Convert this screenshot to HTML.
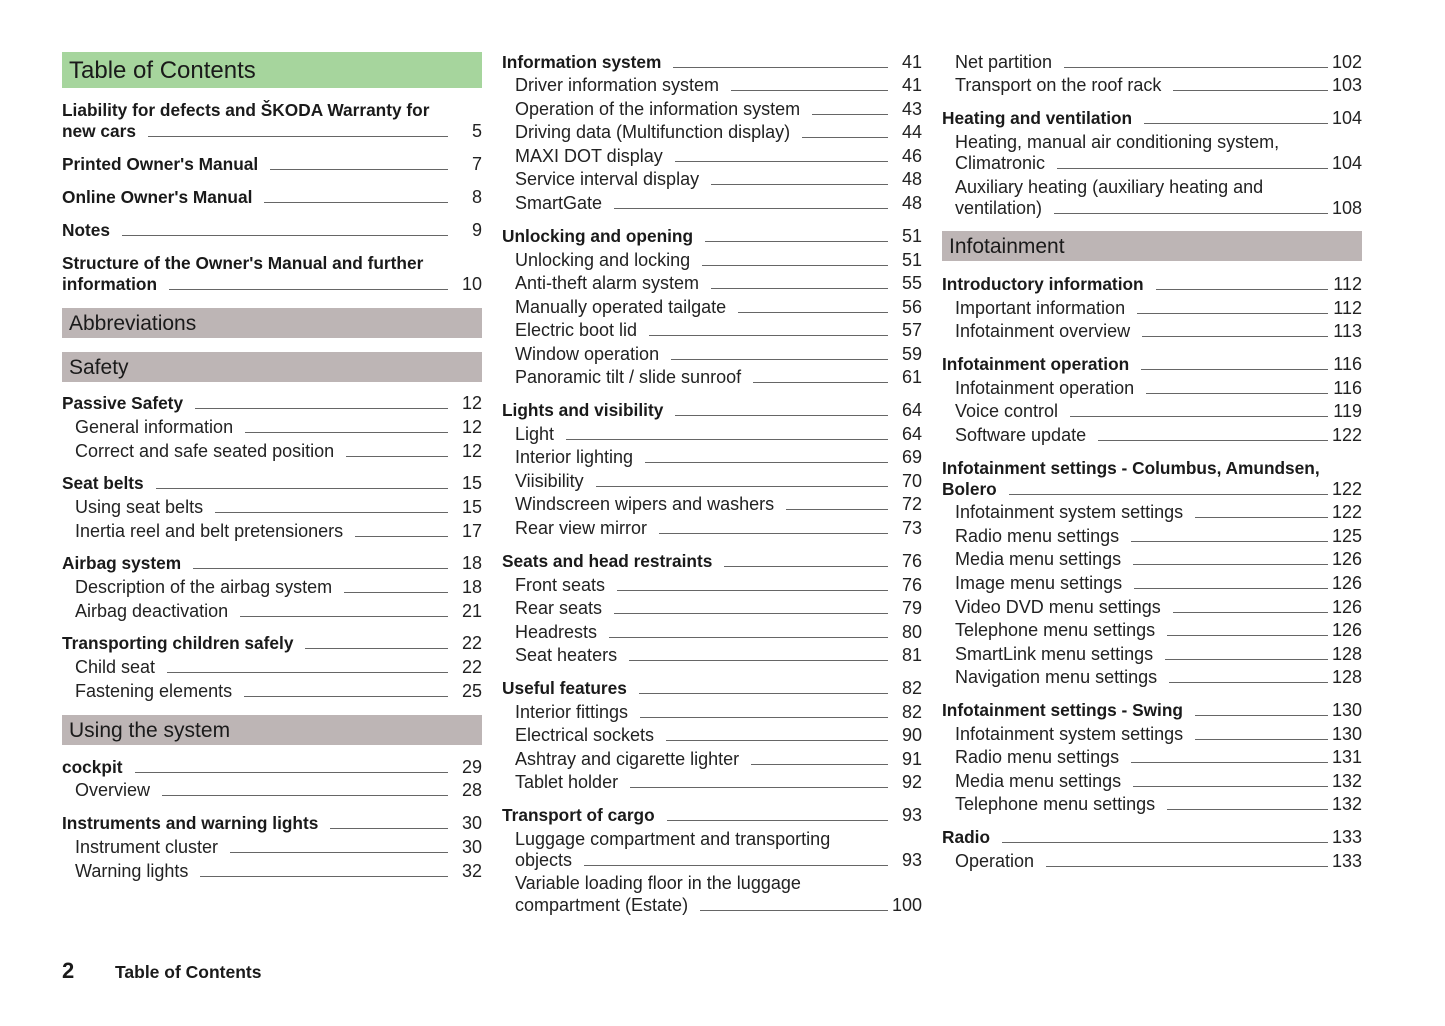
<!DOCTYPE html>
<html><head><meta charset="utf-8">
<style>
body{margin:0;width:1445px;height:1026px;background:#fff;position:relative;overflow:hidden;font-family:"Liberation Sans",sans-serif;color:#222}
.e{position:absolute;height:22px;line-height:22px;display:flex;font-size:18px;white-space:nowrap;margin-top:1px}
.c1{left:62px;width:420px}.c2{left:502px;width:420px}.c3{left:942px;width:420px}
.s{padding-left:13px;box-sizing:border-box}
.b{font-weight:bold;color:#1a1a1a;font-size:17.3px}
.r{flex:1;align-self:flex-end;margin:0 0 5px 12px;border-bottom:1px solid #666;height:0}
.n{width:34px;text-align:right;font-weight:normal;color:#222;font-size:18px}
.h{position:absolute;height:30px;line-height:31px;font-size:21px;padding-left:7px;box-sizing:border-box;background:#bdb5b5;color:#1a1a1a}
</style></head><body>
<div class="h" style="left:62px;top:52px;width:420px;height:36px;line-height:38px;font-size:24px;background:#a6d59d">Table of Contents</div>
<div class="h" style="left:62px;top:308px;width:420px">Abbreviations</div>
<div class="h" style="left:62px;top:352px;width:420px">Safety</div>
<div class="h" style="left:62px;top:715px;width:420px">Using the system</div>
<div class="h" style="left:942px;top:231px;width:420px">Infotainment</div>

<div class="e c1 b" style="top:98px">Liability for defects and ŠKODA Warranty for</div>
<div class="e c1 b" style="top:119px">new cars<span class="r"></span><span class="n">5</span></div>
<div class="e c1 b" style="top:152px">Printed Owner's Manual<span class="r"></span><span class="n">7</span></div>
<div class="e c1 b" style="top:185px">Online Owner's Manual<span class="r"></span><span class="n">8</span></div>
<div class="e c1 b" style="top:218px">Notes<span class="r"></span><span class="n">9</span></div>
<div class="e c1 b" style="top:251px">Structure of the Owner's Manual and further</div>
<div class="e c1 b" style="top:272px">information<span class="r"></span><span class="n">10</span></div>
<div class="e c1 b" style="top:391px">Passive Safety<span class="r"></span><span class="n">12</span></div>
<div class="e c1 s" style="top:415px">General information<span class="r"></span><span class="n">12</span></div>
<div class="e c1 s" style="top:439px">Correct and safe seated position<span class="r"></span><span class="n">12</span></div>
<div class="e c1 b" style="top:471px">Seat belts<span class="r"></span><span class="n">15</span></div>
<div class="e c1 s" style="top:495px">Using seat belts<span class="r"></span><span class="n">15</span></div>
<div class="e c1 s" style="top:519px">Inertia reel and belt pretensioners<span class="r"></span><span class="n">17</span></div>
<div class="e c1 b" style="top:551px">Airbag system<span class="r"></span><span class="n">18</span></div>
<div class="e c1 s" style="top:575px">Description of the airbag system<span class="r"></span><span class="n">18</span></div>
<div class="e c1 s" style="top:599px">Airbag deactivation<span class="r"></span><span class="n">21</span></div>
<div class="e c1 b" style="top:631px">Transporting children safely<span class="r"></span><span class="n">22</span></div>
<div class="e c1 s" style="top:655px">Child seat<span class="r"></span><span class="n">22</span></div>
<div class="e c1 s" style="top:679px">Fastening elements<span class="r"></span><span class="n">25</span></div>
<div class="e c1 b" style="top:755px">cockpit<span class="r"></span><span class="n">29</span></div>
<div class="e c1 s" style="top:778px">Overview<span class="r"></span><span class="n">28</span></div>
<div class="e c1 b" style="top:811px">Instruments and warning lights<span class="r"></span><span class="n">30</span></div>
<div class="e c1 s" style="top:835px">Instrument cluster<span class="r"></span><span class="n">30</span></div>
<div class="e c1 s" style="top:859px">Warning lights<span class="r"></span><span class="n">32</span></div>

<div class="e c2 b" style="top:50px">Information system<span class="r"></span><span class="n">41</span></div>
<div class="e c2 s" style="top:73px">Driver information system<span class="r"></span><span class="n">41</span></div>
<div class="e c2 s" style="top:97px">Operation of the information system<span class="r"></span><span class="n">43</span></div>
<div class="e c2 s" style="top:120px">Driving data (Multifunction display)<span class="r"></span><span class="n">44</span></div>
<div class="e c2 s" style="top:144px">MAXI DOT display<span class="r"></span><span class="n">46</span></div>
<div class="e c2 s" style="top:167px">Service interval display<span class="r"></span><span class="n">48</span></div>
<div class="e c2 s" style="top:191px">SmartGate<span class="r"></span><span class="n">48</span></div>
<div class="e c2 b" style="top:224px">Unlocking and opening<span class="r"></span><span class="n">51</span></div>
<div class="e c2 s" style="top:248px">Unlocking and locking<span class="r"></span><span class="n">51</span></div>
<div class="e c2 s" style="top:271px">Anti-theft alarm system<span class="r"></span><span class="n">55</span></div>
<div class="e c2 s" style="top:295px">Manually operated tailgate<span class="r"></span><span class="n">56</span></div>
<div class="e c2 s" style="top:318px">Electric boot lid<span class="r"></span><span class="n">57</span></div>
<div class="e c2 s" style="top:342px">Window operation<span class="r"></span><span class="n">59</span></div>
<div class="e c2 s" style="top:365px">Panoramic tilt / slide sunroof<span class="r"></span><span class="n">61</span></div>
<div class="e c2 b" style="top:398px">Lights and visibility<span class="r"></span><span class="n">64</span></div>
<div class="e c2 s" style="top:422px">Light<span class="r"></span><span class="n">64</span></div>
<div class="e c2 s" style="top:445px">Interior lighting<span class="r"></span><span class="n">69</span></div>
<div class="e c2 s" style="top:469px">Viisibility<span class="r"></span><span class="n">70</span></div>
<div class="e c2 s" style="top:492px">Windscreen wipers and washers<span class="r"></span><span class="n">72</span></div>
<div class="e c2 s" style="top:516px">Rear view mirror<span class="r"></span><span class="n">73</span></div>
<div class="e c2 b" style="top:549px">Seats and head restraints<span class="r"></span><span class="n">76</span></div>
<div class="e c2 s" style="top:573px">Front seats<span class="r"></span><span class="n">76</span></div>
<div class="e c2 s" style="top:596px">Rear seats<span class="r"></span><span class="n">79</span></div>
<div class="e c2 s" style="top:620px">Headrests<span class="r"></span><span class="n">80</span></div>
<div class="e c2 s" style="top:643px">Seat heaters<span class="r"></span><span class="n">81</span></div>
<div class="e c2 b" style="top:676px">Useful features<span class="r"></span><span class="n">82</span></div>
<div class="e c2 s" style="top:700px">Interior fittings<span class="r"></span><span class="n">82</span></div>
<div class="e c2 s" style="top:723px">Electrical sockets<span class="r"></span><span class="n">90</span></div>
<div class="e c2 s" style="top:747px">Ashtray and cigarette lighter<span class="r"></span><span class="n">91</span></div>
<div class="e c2 s" style="top:770px">Tablet holder<span class="r"></span><span class="n">92</span></div>
<div class="e c2 b" style="top:803px">Transport of cargo<span class="r"></span><span class="n">93</span></div>
<div class="e c2 s" style="top:827px">Luggage compartment and transporting</div>
<div class="e c2 s" style="top:848px">objects<span class="r"></span><span class="n">93</span></div>
<div class="e c2 s" style="top:871px">Variable loading floor in the luggage</div>
<div class="e c2 s" style="top:893px">compartment (Estate)<span class="r"></span><span class="n">100</span></div>

<div class="e c3 s" style="top:50px">Net partition<span class="r"></span><span class="n">102</span></div>
<div class="e c3 s" style="top:73px">Transport on the roof rack<span class="r"></span><span class="n">103</span></div>
<div class="e c3 b" style="top:106px">Heating and ventilation<span class="r"></span><span class="n">104</span></div>
<div class="e c3 s" style="top:130px">Heating, manual air conditioning system,</div>
<div class="e c3 s" style="top:151px">Climatronic<span class="r"></span><span class="n">104</span></div>
<div class="e c3 s" style="top:175px">Auxiliary heating (auxiliary heating and</div>
<div class="e c3 s" style="top:196px">ventilation)<span class="r"></span><span class="n">108</span></div>
<div class="e c3 b" style="top:272px">Introductory information<span class="r"></span><span class="n">112</span></div>
<div class="e c3 s" style="top:296px">Important information<span class="r"></span><span class="n">112</span></div>
<div class="e c3 s" style="top:319px">Infotainment overview<span class="r"></span><span class="n">113</span></div>
<div class="e c3 b" style="top:352px">Infotainment operation<span class="r"></span><span class="n">116</span></div>
<div class="e c3 s" style="top:376px">Infotainment operation<span class="r"></span><span class="n">116</span></div>
<div class="e c3 s" style="top:399px">Voice control<span class="r"></span><span class="n">119</span></div>
<div class="e c3 s" style="top:423px">Software update<span class="r"></span><span class="n">122</span></div>
<div class="e c3 b" style="top:456px">Infotainment settings - Columbus, Amundsen,</div>
<div class="e c3 b" style="top:477px">Bolero<span class="r"></span><span class="n">122</span></div>
<div class="e c3 s" style="top:500px">Infotainment system settings<span class="r"></span><span class="n">122</span></div>
<div class="e c3 s" style="top:524px">Radio menu settings<span class="r"></span><span class="n">125</span></div>
<div class="e c3 s" style="top:547px">Media menu settings<span class="r"></span><span class="n">126</span></div>
<div class="e c3 s" style="top:571px">Image menu settings<span class="r"></span><span class="n">126</span></div>
<div class="e c3 s" style="top:595px">Video DVD menu settings<span class="r"></span><span class="n">126</span></div>
<div class="e c3 s" style="top:618px">Telephone menu settings<span class="r"></span><span class="n">126</span></div>
<div class="e c3 s" style="top:642px">SmartLink menu settings<span class="r"></span><span class="n">128</span></div>
<div class="e c3 s" style="top:665px">Navigation menu settings<span class="r"></span><span class="n">128</span></div>
<div class="e c3 b" style="top:698px">Infotainment settings - Swing<span class="r"></span><span class="n">130</span></div>
<div class="e c3 s" style="top:722px">Infotainment system settings<span class="r"></span><span class="n">130</span></div>
<div class="e c3 s" style="top:745px">Radio menu settings<span class="r"></span><span class="n">131</span></div>
<div class="e c3 s" style="top:769px">Media menu settings<span class="r"></span><span class="n">132</span></div>
<div class="e c3 s" style="top:792px">Telephone menu settings<span class="r"></span><span class="n">132</span></div>
<div class="e c3 b" style="top:825px">Radio<span class="r"></span><span class="n">133</span></div>
<div class="e c3 s" style="top:849px">Operation<span class="r"></span><span class="n">133</span></div>

<div style="position:absolute;left:62px;top:958px;font-size:22px;font-weight:bold;color:#1a1a1a">2</div>
<div style="position:absolute;left:115px;top:962px;font-size:17.5px;font-weight:bold;color:#1a1a1a">Table of Contents</div>
</body></html>
